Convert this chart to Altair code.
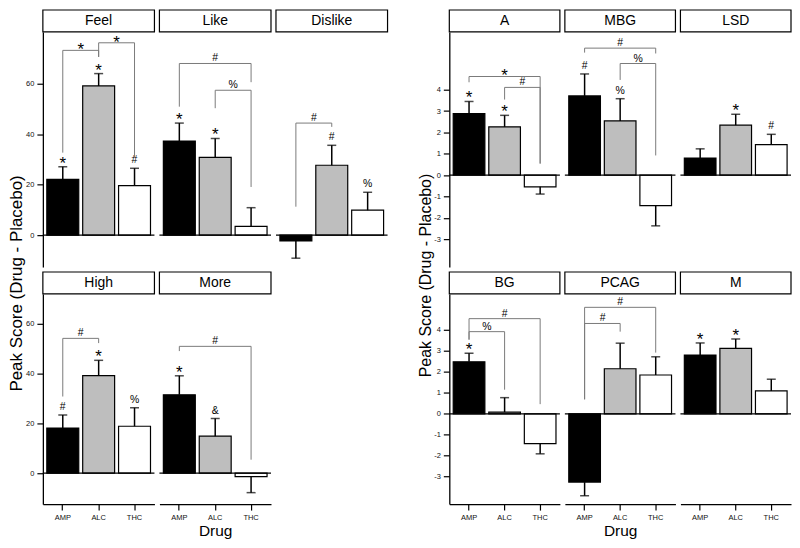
import altair as alt
import pandas as pd

drugs = ["AMP", "ALC", "THC"]
drug_fill = ["#000000", "#bebebe", "#ffffff"]

# ---- left block: subjective drug effects (mean, SEM, significance marks) ----
feel_mean = [22.1, 59.1, 19.6]
feel_sem = [5.0, 4.9, 6.9]
feel_sig = ["*", "*", "#"]
feel_brk = [("AMP", "ALC", 73.2, 32.7, 70.6, "*"), ("ALC", "THC", 76.2, 70.6, 30.8, "*")]

like_mean = [37.3, 30.8, 3.5]
like_sem = [7.1, 7.5, 7.4]
like_sig = ["*", "*", ""]
like_brk = [("AMP", "THC", 68.0, 50.9, 60.6, "#"), ("ALC", "THC", 57.4, 50.3, 19.1, "%")]

dislike_mean = [-2.3, 27.7, 9.9]
dislike_sem = [6.8, 7.9, 7.1]
dislike_sig = ["", "#", "%"]
dislike_brk = [("AMP", "ALC", 44.4, 11.3, 42.9, "#")]

high_mean = [18.1, 39.1, 18.8]
high_sem = [5.2, 6.1, 7.4]
high_sig = ["#", "*", "%"]
high_brk = [("AMP", "ALC", 54.0, 30.7, 52.1, "#")]

more_mean = [31.4, 14.8, -1.4]
more_sem = [7.6, 7.1, 6.4]
more_sig = ["*", "&", ""]
more_brk = [("AMP", "THC", 50.8, 48.9, 5.4, "#")]

# ---- right block ----
a_mean = [2.88, 2.26, -0.55]
a_sem = [0.57, 0.54, 0.34]
a_sig = ["*", "*", ""]
a_brk = [("AMP", "THC", 4.62, 4.35, 0.54, "*"), ("ALC", "THC", 4.11, 3.54, 0.54, "#")]

mbg_mean = [3.71, 2.54, -1.43]
mbg_sem = [1.03, 1.04, 0.95]
mbg_sig = ["#", "%", ""]
mbg_brk = [("AMP", "THC", 5.95, 5.74, 5.70, "#"), ("ALC", "THC", 5.23, 4.46, 0.92, "%")]

lsd_mean = [0.80, 2.34, 1.43]
lsd_sem = [0.43, 0.51, 0.48]
lsd_sig = ["", "*", "#"]
lsd_brk = []

bg_mean = [2.48, 0.08, -1.42]
bg_sem = [0.41, 0.69, 0.49]
bg_sig = ["*", "", ""]
bg_brk = [("AMP", "THC", 4.54, 3.54, 0.46, "#"), ("AMP", "ALC", 3.92, 3.54, 1.15, "%")]

pcag_mean = [-3.26, 2.15, 1.85]
pcag_sem = [0.65, 1.22, 0.87]
pcag_sig = ["", "", ""]
pcag_brk = [("AMP", "THC", 5.08, 0.69, 2.92, "#"), ("AMP", "ALC", 4.31, 0.69, 3.92, "#")]

m_mean = [2.80, 3.12, 1.09]
m_sem = [0.58, 0.45, 0.56]
m_sig = ["*", "*", ""]
m_brk = []

left_top_domain = [-12.6, 80.5]
left_bottom_domain = [-12.4, 71.8]
right_top_domain = [-4.31, 6.71]
right_bottom_domain = [-4.31, 5.72]
left_ticks = [0, 20, 40, 60]
right_ticks = [-3, -2, -1, 0, 1, 2, 3, 4]
y_title = "Peak Score (Drug - Placebo)"
x_title = "Drug"

# ---- layout constants ----
W_L, W_R, GAP_W = 112, 111, 52
H_TOP, H_BOT, HEAD = 236, 211, 22
FONT = "Liberation Sans"
BRK_COLOR = "#7a7a7a"


def build_panel(name, mean, sem, sig, brk, domain, ticks, width, height,
                first=False, bottom=False, xt="", yt="", yt_x=0, yt_y=0, yt_size=16):
    df = pd.DataFrame({"drug": drugs, "mean": mean, "sem": sem, "sig": sig})
    xscale = alt.Scale(domain=drugs, paddingInner=0.11, paddingOuter=0.11)
    if bottom:
        xaxis = alt.Axis(domain=True, domainColor="black", domainWidth=1.3, ticks=True,
                         tickColor="black", tickSize=6, tickWidth=1.2, labelFontSize=7.5,
                         labelColor="#111111", labelPadding=3, labelAngle=0, grid=False,
                         titleFontSize=15.5, titleFontWeight="normal", titlePadding=3,
                         titleColor="black", labelFont=FONT, titleFont=FONT)
    else:
        xaxis = None
    yscale = alt.Scale(domain=domain, nice=False, zero=False)
    if first:
        yaxis = alt.Axis(values=ticks, labelExpr="'' + datum.value", domain=True,
                         domainColor="black", domainWidth=1.3, ticks=True, tickColor="black",
                         tickSize=6, tickWidth=1.2, labelFontSize=7.5, labelColor="#111111",
                         labelPadding=3, grid=False, titleFontSize=yt_size,
                         titleFontWeight="normal", titleColor="black", titleX=yt_x,
                         titleY=yt_y, labelFont=FONT, titleFont=FONT)
    else:
        yaxis = None

    def X(field, band=False):
        if band:
            return alt.X(f"{field}:N", scale=xscale, axis=xaxis, title=xt, bandPosition=0.5)
        return alt.X(f"{field}:N", scale=xscale, axis=xaxis, title=xt)

    def Y(field):
        return alt.Y(f"{field}:Q", scale=yscale, axis=yaxis, title=yt)

    layers = []
    hdr = alt.Chart(pd.DataFrame({"t": [name]}))
    layers.append(hdr.mark_rect(fill="white", stroke="black", strokeWidth=1.2).encode(
        x=alt.value(0), x2=alt.value(width), y=alt.value(-HEAD), y2=alt.value(0)))
    layers.append(hdr.mark_text(fontSize=14, color="black", font=FONT).encode(
        x=alt.value(width / 2), y=alt.value(-HEAD / 2), text="t:N"))

    base = alt.Chart(df).transform_calculate(
        end="datum.mean >= 0 ? datum.mean + datum.sem : datum.mean - datum.sem")
    layers.append(base.mark_bar(stroke="black", strokeWidth=1.2).encode(
        x=X("drug"), y=Y("mean"), y2=alt.datum(0),
        color=alt.Color("drug:N", scale=alt.Scale(domain=drugs, range=drug_fill), legend=None)))
    layers.append(base.mark_rule(color="black", strokeWidth=1.5).encode(
        x=X("drug", True), y=Y("mean"), y2="end:Q"))
    layers.append(base.mark_tick(color="black", size=9, thickness=1.5).encode(
        x=X("drug"), y=Y("end")))
    layers.append(alt.Chart(pd.DataFrame({"z": [0]})).mark_rule(
        color="black", strokeWidth=1.3).encode(y=Y("z")))

    if any(s == "*" for s in sig):
        layers.append(base.transform_filter("datum.sig == '*'").mark_text(
            fontSize=17, baseline="alphabetic", dy=2, color="black", font=FONT).encode(
            x=X("drug"), y=Y("end"), text="sig:N"))
    if any(s not in ("*", "") for s in sig):
        layers.append(base.transform_filter("datum.sig != '*' && datum.sig != ''").mark_text(
            fontSize=10.5, baseline="alphabetic", dy=-5, color="black", font=FONT).encode(
            x=X("drug"), y=Y("end"), text="sig:N"))

    if brk:
        bdf = pd.DataFrame(brk, columns=["d1", "d2", "top", "y1", "y2", "sym"])
        idx = {d: i for i, d in enumerate(drugs)}
        adj = [abs(idx[a] - idx[b]) == 1 for a, b in zip(bdf.d1, bdf.d2)]
        bdf["adj"] = adj
        bdf["anchor"] = [(a if idx[a] < idx[b] else b) if j else drugs[1]
                         for a, b, j in zip(bdf.d1, bdf.d2, adj)]
        bb = alt.Chart(bdf)
        layers.append(bb.mark_rule(color=BRK_COLOR, strokeWidth=1).encode(
            x=X("d1", True), x2=alt.X2("d2:N", bandPosition=0.5), y=Y("top")))
        layers.append(bb.mark_rule(color=BRK_COLOR, strokeWidth=1).encode(
            x=X("d1", True), y=Y("top"), y2="y1:Q"))
        layers.append(bb.mark_rule(color=BRK_COLOR, strokeWidth=1).encode(
            x=X("d2", True), y=Y("top"), y2="y2:Q"))
        for is_adj in (True, False):
            for star in (True, False):
                sub = bdf[(bdf.adj == is_adj) & ((bdf.sym == "*") == star)]
                if len(sub) == 0:
                    continue
                layers.append(alt.Chart(sub).mark_text(
                    fontSize=17 if star else 10.5, baseline="alphabetic",
                    dy=5 if star else -2, dx=18 if is_adj else 0,
                    color="black", font=FONT).encode(
                    x=X("anchor"), y=Y("top"), text="sym:N"))

    return alt.layer(*layers).properties(width=width, height=height)


def blank(width, height):
    return alt.Chart(pd.DataFrame({"v": [0]})).mark_point(opacity=0).properties(
        width=width, height=height)


cells = [
    build_panel("Feel", feel_mean, feel_sem, feel_sig, feel_brk, left_top_domain, left_ticks,
                W_L, H_TOP, first=True, yt=y_title, yt_x=-17, yt_y=252, yt_size=17),
    build_panel("Like", like_mean, like_sem, like_sig, like_brk, left_top_domain, left_ticks,
                W_L, H_TOP),
    build_panel("Dislike", dislike_mean, dislike_sem, dislike_sig, dislike_brk,
                left_top_domain, left_ticks, W_L, H_TOP),
    blank(GAP_W, H_TOP),
    build_panel("A", a_mean, a_sem, a_sig, a_brk, right_top_domain, right_ticks,
                W_R, H_TOP, first=True, yt=y_title, yt_x=-16, yt_y=244, yt_size=16),
    build_panel("MBG", mbg_mean, mbg_sem, mbg_sig, mbg_brk, right_top_domain, right_ticks,
                W_R, H_TOP),
    build_panel("LSD", lsd_mean, lsd_sem, lsd_sig, lsd_brk, right_top_domain, right_ticks,
                W_R, H_TOP),
    build_panel("High", high_mean, high_sem, high_sig, high_brk, left_bottom_domain,
                left_ticks, W_L, H_BOT, first=True, bottom=True),
    build_panel("More", more_mean, more_sem, more_sig, more_brk, left_bottom_domain,
                left_ticks, W_L, H_BOT, bottom=True, xt=x_title),
    blank(W_L, H_BOT),
    blank(GAP_W, H_BOT),
    build_panel("BG", bg_mean, bg_sem, bg_sig, bg_brk, right_bottom_domain, right_ticks,
                W_R, H_BOT, first=True, bottom=True),
    build_panel("PCAG", pcag_mean, pcag_sem, pcag_sig, pcag_brk, right_bottom_domain,
                right_ticks, W_R, H_BOT, bottom=True, xt=x_title),
    build_panel("M", m_mean, m_sem, m_sig, m_brk, right_bottom_domain, right_ticks,
                W_R, H_BOT, bottom=True),
]

chart = alt.concat(
    *cells, columns=7, spacing={"row": 27, "column": 5}, bounds="flush", align="each"
).properties(padding=0).configure(font=FONT).configure_view(stroke=None)

chart.save("out.html", embed_options={"renderer": "svg", "actions": False})
